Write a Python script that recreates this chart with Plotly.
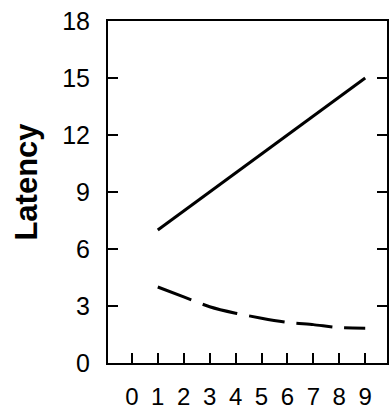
import plotly.graph_objects as go

x_vals = [1, 2, 3, 4, 5, 6, 7, 8, 9]
solid_latency = [7.0, 8.0, 9.0, 10.0, 11.0, 12.0, 13.0, 14.0, 15.0]
dashed_latency = [4.0, 3.48, 2.96, 2.62, 2.36, 2.14, 2.02, 1.86, 1.83]
x_ticks = [0, 1, 2, 3, 4, 5, 6, 7, 8, 9]
y_ticks = [0, 3, 6, 9, 12, 15, 18]

fig = go.Figure()
fig.add_trace(go.Scatter(x=x_vals, y=solid_latency, mode="lines",
                         line=dict(color="black", width=3), showlegend=False))
fig.add_trace(go.Scatter(x=x_vals, y=dashed_latency, mode="lines",
                         line=dict(color="black", width=3, dash="36px,12px", shape="spline", smoothing=0.6),
                         showlegend=False))

font_family = "Liberation Sans, Arial, sans-serif"
fig.update_layout(
    width=390, height=411,
    margin=dict(l=108, r=1, t=21, b=42),
    paper_bgcolor="white", plot_bgcolor="white",
    font=dict(family=font_family, color="black"),
    xaxis=dict(range=[-0.92, 9.84], tickvals=x_ticks, ticktext=[str(v) for v in x_ticks],
               showgrid=False, zeroline=False, showline=True, linecolor="black", linewidth=2,
               mirror=True, ticks="inside", ticklen=10, tickwidth=2, tickcolor="black",
               tickfont=dict(size=24, family=font_family), ticklabelstandoff=11),
    yaxis=dict(range=[0, 18], tickvals=y_ticks, ticktext=[str(v) for v in y_ticks],
               showgrid=False, zeroline=False, showline=True, linecolor="black", linewidth=2,
               mirror="ticks", ticks="inside", ticklen=10, tickwidth=2, tickcolor="black",
               tickfont=dict(size=25, family=font_family), ticklabelstandoff=11),
    annotations=[dict(text="<b>Latency</b>", textangle=-90, xref="paper", yref="paper",
                      x=-0.292, y=0.529, xanchor="center", yanchor="middle", showarrow=False,
                      font=dict(size=31, family=font_family, color="black"))],
)

fig.write_html("out.html", config={"displayModeBar": False})
with open("out.html", "r", encoding="utf-8") as f:
    html = f.read()
html = html.replace("<head>", "<head><style>html,body{margin:0;padding:0;overflow:hidden;}</style>", 1)
with open("out.html", "w", encoding="utf-8") as f:
    f.write(html)
